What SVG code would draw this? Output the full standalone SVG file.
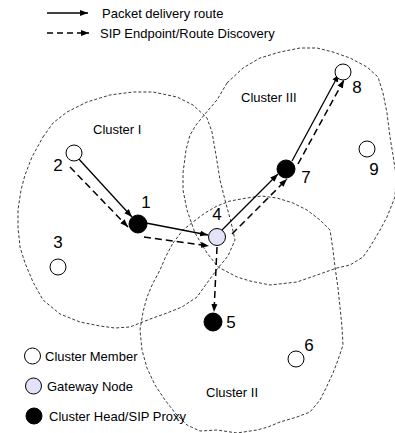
<svg xmlns="http://www.w3.org/2000/svg" width="395" height="433" viewBox="0 0 395 433">
  <style>
    .txt { font-family: "Liberation Sans", Arial, sans-serif; fill: #000; }
    .lbl { font-size: 13px; }
    .num { font-size: 17px; text-anchor: middle; }
    .boundary { fill: none; stroke: #222; stroke-width: 0.9; stroke-dasharray: 3 2; stroke-linejoin: round; }
    .route { fill: none; stroke: #000; stroke-width: 1.3; marker-end: url(#ah); }
    .disc { fill: none; stroke: #000; stroke-width: 1.5; stroke-dasharray: 7 4; marker-end: url(#ah); }
    .member { fill: #fff; stroke: #000; stroke-width: 1; }
    .gateway { fill: #e2e2f8; stroke: #000; stroke-width: 1; }
    .head { fill: #000; stroke: #000; stroke-width: 1; }
  </style>
  <defs>
    <marker id="ah" markerWidth="9" markerHeight="7" refX="8" refY="3.5" orient="auto" markerUnits="userSpaceOnUse">
      <path d="M0,0.5 L8,3.5 L0,6.5 z" fill="#000"/>
    </marker>
  </defs>
  <rect width="395" height="433" fill="#fff"/>

  <!-- legend: connector styles -->
  <g id="legend-lines">
    <line class="route" x1="47" y1="13" x2="88" y2="13"/>
    <line class="disc" x1="47" y1="33" x2="89" y2="33" style="stroke-dasharray:6 4"/>
    <text class="txt lbl" x="102" y="17.5">Packet delivery route</text>
    <text class="txt lbl" x="100" y="37.5">SIP Endpoint/Route Discovery</text>
  </g>

  <!-- cluster boundaries -->
  <g id="clusters">
    <path id="cluster-1" class="boundary" d="M43,137 L53,123 L67,112 L87,102 L110,95 L133,92 L153,92 L177,97 L193,105 L207,118 L212,132 L216,155 L220,180 L225,200 L231,222 L235,240 L228,256 L218,268 L207,283 L197,297 L182,307 L167,313 L153,318 L140,323 L130,327 L115,328 L100,326 L80,322 L60,314 L43,300 L33,282 L25,263 L20,247 L18,227 L18,210 L21,190 L25,175 L32,157 Z"/>
    <path id="cluster-2" class="boundary" d="M173,243 L183,230 L193,222 L205,213 L217,206 L230,201 L247,198 L262,196 L277,198 L293,203 L307,210 L320,220 L330,230 L333,250 L335,267 L338,288 L340,307 L342,327 L343,345 L338,360 L333,373 L326,388 L320,400 L310,412 L297,417 L280,422 L268,427 L257,430 L237,433 L217,430 L200,431 L187,425 L176,414 L165,400 L155,385 L147,368 L142,350 L140,330 L143,312 L147,297 L153,283 L160,270 L166,256 Z"/>
    <path id="cluster-3" class="boundary" d="M227,83 L243,68 L260,58 L280,52 L300,48 L317,48 L333,52 L350,58 L367,67 L378,77 L383,93 L387,113 L390,137 L393,155 L396,175 L395,197 L387,217 L380,230 L370,247 L363,257 L350,265 L337,268 L317,275 L297,282 L270,285 L250,281 L237,277 L218,267 L207,253 L195,233 L187,210 L183,190 L183,173 L186,150 L190,135 L196,125 L205,114 L217,100 Z"/>
    <text class="txt lbl" x="93" y="133.5">Cluster I</text>
    <text class="txt lbl" x="206" y="396.5">Cluster II</text>
    <text class="txt lbl" x="241" y="101.5">Cluster III</text>
  </g>

  <!-- connectors -->
  <g id="connectors">
    <line class="route" x1="77" y1="157" x2="132" y2="217"/>
    <line class="disc" x1="70" y1="167" x2="128" y2="227"/>
    <line class="route" x1="146" y1="223" x2="208" y2="235"/>
    <line class="disc" x1="144" y1="237" x2="209" y2="246"/>
    <line class="disc" x1="217" y1="247" x2="214" y2="312"/>
    <line class="route" x1="222" y1="230" x2="278" y2="174"/>
    <line class="disc" x1="232" y1="234" x2="287" y2="179"/>
    <line class="route" x1="292" y1="161" x2="339" y2="74"/>
    <line class="disc" x1="298" y1="164" x2="344" y2="80"/>
  </g>

  <!-- nodes -->
  <g id="node-1"><circle class="head" cx="138" cy="224" r="9"/><text class="txt num" x="146" y="208">1</text></g>
  <g id="node-2"><circle class="member" cx="74" cy="153" r="8"/><text class="txt num" x="58" y="171">2</text></g>
  <g id="node-3"><circle class="member" cx="58" cy="267" r="8"/><text class="txt num" x="58" y="248">3</text></g>
  <g id="node-4"><circle class="gateway" cx="217" cy="237" r="8.5"/><text class="txt num" x="217" y="220">4</text></g>
  <g id="node-5"><circle class="head" cx="213" cy="322" r="9"/><text class="txt num" x="231" y="328">5</text></g>
  <g id="node-6"><circle class="member" cx="296" cy="359" r="8"/><text class="txt num" x="309" y="351">6</text></g>
  <g id="node-7"><circle class="head" cx="286" cy="169" r="9"/><text class="txt num" x="306" y="183">7</text></g>
  <g id="node-8"><circle class="member" cx="343" cy="72" r="8"/><text class="txt num" x="357" y="93">8</text></g>
  <g id="node-9"><circle class="member" cx="367" cy="149" r="8"/><text class="txt num" x="374" y="175">9</text></g>

  <!-- legend: node kinds -->
  <g id="legend-nodes">
    <circle class="member" cx="32.5" cy="356" r="8"/>
    <text class="txt lbl" x="45" y="361">Cluster Member</text>
    <circle class="gateway" cx="33.5" cy="386" r="8"/>
    <text class="txt lbl" x="47" y="391">Gateway Node</text>
    <circle class="head" cx="34" cy="416" r="8"/>
    <text class="txt lbl" x="49" y="421">Cluster Head/SIP Proxy</text>
  </g>
</svg>
